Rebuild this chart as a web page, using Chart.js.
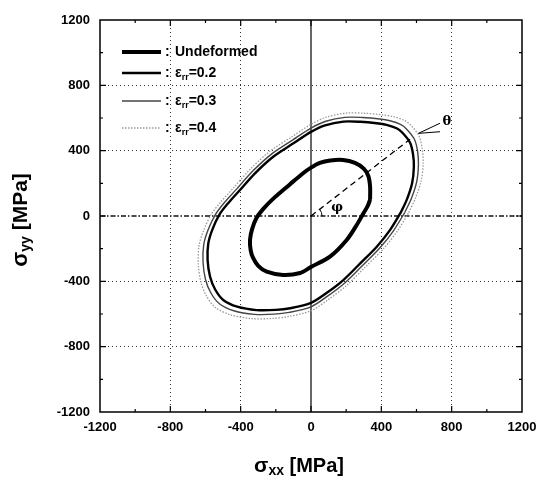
<!DOCTYPE html>
<html>
<head>
<meta charset="utf-8">
<script src="https://cdn.jsdelivr.net/npm/chart.js@4/dist/chart.umd.min.js"></script>
<style>
html, body { margin: 0; padding: 0; background: #fff; overflow: hidden; }
#wrap { width: 539px; height: 481px; }
</style>
</head>
<body>
<div id="wrap"><canvas id="c"></canvas></div>
<script>
// ---- data (MPa) ----
const tickValues = [-1200, -800, -400, 0, 400, 800, 1200]
const strainLevels = ['0.2', '0.3', '0.4']

const undeformed = [[336,100],[336,180],[326,245],[300,290],[250,325],[182,343],[110,340],[50,325],[0,296],[-45,262],[-119,195],[-216,105],[-270,45],[-310,-12],[-335,-80],[-347,-147],[-343,-210],[-330,-255],[-300,-305],[-252,-341],[-159,-361],[-62,-349],[0,-312],[108,-249],[203,-147],[260,-55],[300,20],[322,60],[336,100]]

const strain02 = [[510,20],[545,100],[575,200],[585,300],[580,380],[563,450],[520,510],[487,537],[430,558],[374,568],[280,577],[184,578],[80,555],[0,515],[-100,445],[-215,363],[-320,260],[-404,159],[-470,80],[-520,10],[-560,-80],[-584,-167],[-588,-270],[-574,-372],[-545,-450],[-499,-514],[-420,-555],[-309,-576],[-200,-575],[-119,-565],[0,-532],[90,-470],[184,-392],[280,-290],[374,-188],[450,-85],[510,20]]

const strain03 = [[533,21],[570,105],[601,209],[611,314],[606,397],[588,470],[543,533],[509,561],[449,583],[391,594],[293,603],[192,604],[84,580],[0,538],[-105,465],[-225,379],[-334,272],[-422,166],[-491,84],[-543,10],[-585,-84],[-610,-175],[-614,-282],[-600,-389],[-570,-470],[-521,-537],[-439,-580],[-323,-602],[-209,-601],[-124,-590],[0,-556],[94,-491],[192,-410],[293,-303],[391,-196],[470,-89],[533,21]]

const strain04 = [[556,22],[594,109],[627,218],[638,327],[632,414],[614,491],[567,556],[531,585],[469,608],[408,619],[305,629],[201,630],[87,605],[0,561],[-109,485],[-234,396],[-349,283],[-440,173],[-512,87],[-567,11],[-610,-87],[-637,-182],[-641,-294],[-626,-405],[-594,-491],[-544,-560],[-458,-605],[-337,-628],[-218,-627],[-130,-616],[0,-580],[98,-512],[201,-427],[305,-316],[408,-205],[491,-93],[556,22]]

const phiLine = [[0,0],[563,470]]
const thetaLineA = [[611,506],[734,568]]
const thetaLineB = [[611,506],[734,516]]
const phiLabelAt = [148, 49]
const thetaLabelAt = [773, 576]

const FONT = "'Liberation Sans', Arial, Helvetica, sans-serif"
const pts = arr => arr.map(p => ({ x: p[0], y: p[1] }))

// styles of the four curves (shared by plot and legend)
const curveStyles = [
  { color: '#000', width: 4, dash: [] },
  { color: '#000', width: 2.4, dash: [] },
  { color: '#444', width: 1.4, dash: [] },
  { color: '#9a9a9a', width: 1.3, dash: [1.5, 1.5] },
]

// draw text made of parts (for subscripts)
function drawParts(ctx, parts, cx, cy) {
  let total = 0
  parts.forEach(p => { ctx.font = p.font; p.w = ctx.measureText(p.t).width; total += p.w })
  let x = cx - total / 2
  ctx.textBaseline = 'middle'; ctx.textAlign = 'left'
  parts.forEach(p => { ctx.font = p.font; ctx.fillText(p.t, x, cy + (p.dy || 0)); x += p.w })
}

const decor = {
  id: 'decor',
  beforeDatasetsDraw(chart) {
    const { ctx, chartArea: a, scales: { x, y } } = chart
    const x0 = x.getPixelForValue(0), y0 = y.getPixelForValue(0)
    ctx.save()
    ctx.strokeStyle = '#111'; ctx.lineWidth = 1.3; ctx.setLineDash([5, 2, 1.5, 2])
    ctx.beginPath(); ctx.moveTo(a.left, y0); ctx.lineTo(a.right, y0); ctx.stroke()
    ctx.setLineDash([]); ctx.lineWidth = 1.2; ctx.strokeStyle = '#000'
    ctx.beginPath(); ctx.moveTo(x0, a.top); ctx.lineTo(x0, a.bottom); ctx.stroke()
    ctx.restore()
  },
  afterDatasetsDraw(chart) {
    const { ctx, chartArea: a, scales: { x, y } } = chart
    ctx.save()
    // frame
    ctx.strokeStyle = '#000'; ctx.lineWidth = 1.5
    ctx.strokeRect(a.left, a.top, a.right - a.left, a.bottom - a.top)
    // inward ticks every 200
    ctx.lineWidth = 1.2
    for (let v = -1000; v <= 1000; v += 200) {
      const len = v % 400 === 0 ? 6 : 3
      const px = x.getPixelForValue(v), py = y.getPixelForValue(v)
      ctx.beginPath()
      ctx.moveTo(px, a.bottom); ctx.lineTo(px, a.bottom - len)
      ctx.moveTo(px, a.top); ctx.lineTo(px, a.top + len)
      ctx.moveTo(a.left, py); ctx.lineTo(a.left + len, py)
      ctx.moveTo(a.right, py); ctx.lineTo(a.right - len, py)
      ctx.stroke()
    }
    // angle arc phi
    const x0 = x.getPixelForValue(0), y0 = y.getPixelForValue(0)
    const ex = x.getPixelForValue(phiLine[1][0]), ey = y.getPixelForValue(phiLine[1][1])
    const ang = Math.atan2(ey - y0, ex - x0)
    ctx.lineWidth = 1
    ctx.beginPath(); ctx.arc(x0, y0, 11, ang, 0); ctx.stroke()
    ctx.fillStyle = '#000'
    ctx.font = "bold 13px 'DejaVu Serif', serif"
    ctx.textAlign = 'center'; ctx.textBaseline = 'middle'
    ctx.fillText('φ', x.getPixelForValue(phiLabelAt[0]), y.getPixelForValue(phiLabelAt[1]))
    ctx.fillText('θ', x.getPixelForValue(thetaLabelAt[0]), y.getPixelForValue(thetaLabelAt[1]))
    ctx.restore()
  },
  afterDraw(chart) {
    const { ctx, chartArea: a } = chart
    ctx.save()
    ctx.fillStyle = '#000'
    // legend
    const rowsY = [52, 73, 101, 128]
    const lx0 = a.left + 22, lx1 = a.left + 61
    rowsY.forEach((ry, i) => {
      const s = curveStyles[i]
      ctx.strokeStyle = s.color; ctx.lineWidth = s.width; ctx.setLineDash(s.dash)
      ctx.beginPath(); ctx.moveTo(lx0, ry); ctx.lineTo(lx1, ry); ctx.stroke()
      ctx.setLineDash([])
      ctx.textAlign = 'left'; ctx.textBaseline = 'middle'
      ctx.font = 'bold 14px ' + FONT
      ctx.fillText(':', a.left + 65, ry)
      if (i === 0) {
        ctx.fillText('Undeformed', a.left + 75, ry)
      } else {
        let tx = a.left + 75
        ctx.fillText('ε', tx, ry); tx += ctx.measureText('ε').width
        ctx.font = 'bold 9px ' + FONT
        ctx.fillText('rr', tx, ry + 5); tx += ctx.measureText('rr').width
        ctx.font = 'bold 14px ' + FONT
        ctx.fillText('=' + strainLevels[i - 1], tx, ry)
      }
    })
    // axis titles
    drawParts(ctx, [
      { t: 'σ', font: 'bold 21px ' + FONT },
      { t: 'xx', font: 'bold 14px ' + FONT, dy: 5 },
      { t: ' [MPa]', font: 'bold 20px ' + FONT },
    ], 299, 466)
    ctx.translate(21, 220); ctx.rotate(-Math.PI / 2)
    drawParts(ctx, [
      { t: 'σ', font: 'bold 22px ' + FONT },
      { t: 'yy', font: 'bold 14px ' + FONT, dy: 5 },
      { t: ' [MPa]', font: 'bold 21px ' + FONT },
    ], 0, 0)
    ctx.restore()
  },
}

const curve = (data, s, order) => ({
  data: pts(data), showLine: true, pointRadius: 0, tension: 0.3,
  borderColor: s.color, borderWidth: s.width, borderDash: s.dash, order,
})

const axisOpts = (extra) => Object.assign({
  type: 'linear', min: -1200, max: 1200,
  afterBuildTicks: s => { s.ticks = tickValues.map(v => ({ value: v })) },
  ticks: { color: '#000', font: { family: FONT, size: 13, weight: 'bold' }, callback: v => String(v), autoSkip: false, maxRotation: 0 },
  grid: { color: c => (c.tick && (c.tick.value === 0 || Math.abs(c.tick.value) === 1200)) ? 'rgba(0,0,0,0)' : '#333', lineWidth: 1, drawTicks: false },
  border: { display: false, dash: [1, 3] },
}, extra)

new Chart(document.getElementById('c'), {
  type: 'scatter',
  data: {
    datasets: [
      curve(undeformed, curveStyles[0], 1),
      curve(strain02, curveStyles[1], 2),
      curve(strain03, curveStyles[2], 3),
      curve(strain04, curveStyles[3], 4),
      { data: pts(phiLine), showLine: true, pointRadius: 0, borderColor: '#000', borderWidth: 1.3, borderDash: [6, 4], order: 0 },
      { data: pts(thetaLineA), showLine: true, pointRadius: 0, borderColor: '#000', borderWidth: 1, order: 0 },
      { data: pts(thetaLineB), showLine: true, pointRadius: 0, borderColor: '#000', borderWidth: 1, order: 0 },
    ],
  },
  options: {
    responsive: true, maintainAspectRatio: false, animation: false,
    layout: { padding: { top: 20, right: 17, left: 0, bottom: 0 } },
    plugins: { legend: { display: false }, tooltip: { enabled: false } },
    scales: {
      x: axisOpts({ afterFit: s => { s.height = 69; s.paddingLeft = 0; s.paddingRight = 0 }, ticks: Object.assign({}, axisOpts().ticks, { padding: 8 }) }),
      y: axisOpts({ afterFit: s => { s.width = 100 }, ticks: Object.assign({}, axisOpts().ticks, { padding: 10 }) }),
    },
  },
  plugins: [decor],
})
</script>
</body>
</html>
